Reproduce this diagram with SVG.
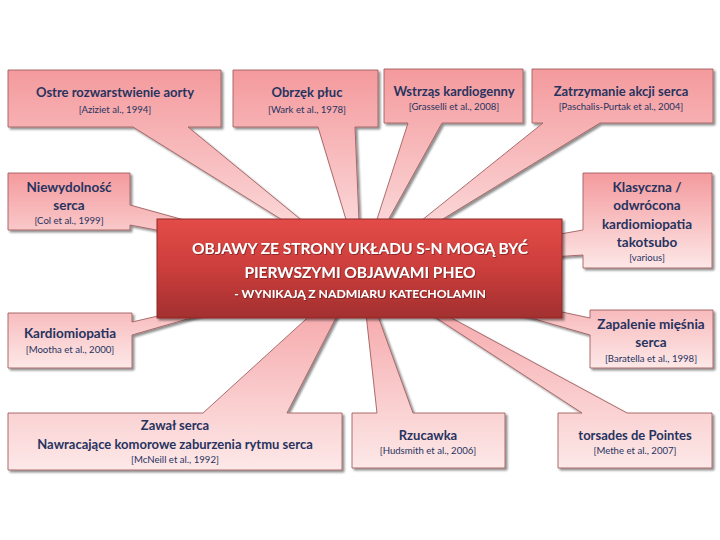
<svg xmlns="http://www.w3.org/2000/svg" width="720" height="540" viewBox="0 0 720 540">
<defs>
<linearGradient id="pink" x1="0" y1="0" x2="0" y2="1">
<stop offset="0" stop-color="#f49a9d"/>
<stop offset="1" stop-color="#fde8e8"/>
</linearGradient>
<linearGradient id="red" x1="0" y1="0" x2="0" y2="1">
<stop offset="0" stop-color="#e34c47"/>
<stop offset="0.5" stop-color="#cb3e3c"/>
<stop offset="1" stop-color="#a32f2f"/>
</linearGradient>
<filter id="sh" x="-10%" y="-10%" width="130%" height="130%">
<feDropShadow dx="2" dy="2" stdDeviation="1.2" flood-color="#000" flood-opacity="0.45"/>
</filter>
<filter id="tsh" x="-10%" y="-20%" width="120%" height="150%">
<feDropShadow dx="0.8" dy="0.8" stdDeviation="0.6" flood-color="#5a1010" flood-opacity="0.7"/>
</filter>
</defs>
<style>
.co{fill:url(#pink);stroke:#a06060;stroke-width:0.9;filter:url(#sh)}
.t{font-family:Lato,"Liberation Sans",sans-serif;font-weight:bold;font-size:13px;fill:#27335f;text-anchor:middle}
.tl{font-size:13.5px}
.c{font-family:Lato,"Liberation Sans",sans-serif;font-size:9.6px;fill:#27335f;text-anchor:middle}
.m{font-family:Lato,"Liberation Sans",sans-serif;font-weight:bold;fill:#ffffff;text-anchor:middle;filter:url(#tsh)}
</style>
<rect width="720" height="540" fill="#ffffff"/>

<g id="n-ostre">
<path class="co" d="M8,70 H221 V127 H188 L361,269 L133,127 H8 Z"/>
<text class="t" x="115" y="97">Ostre rozwarstwienie aorty</text>
<text class="c" x="115" y="113">[Aziziet al., 1994]</text>
</g>
<g id="n-obrzek">
<path class="co" d="M233,70 H378 V127 H355 L361,269 L318,127 H233 Z"/>
<text class="t" x="307" y="97">Obrzęk płuc</text>
<text class="c" x="307" y="113">[Wark et al., 1978]</text>
</g>
<g id="n-wstrzas">
<path class="co" d="M384,69 H523 V123 H442 L361,269 L408,123 H384 Z"/>
<text class="t" x="454" y="96">Wstrząs kardiogenny</text>
<text class="c" x="454" y="110">[Grasselli et al., 2008]</text>
</g>
<g id="n-zatrzymanie">
<path class="co" d="M532,69 H713 V123 H600 L361,269 L543,123 H532 Z"/>
<text class="t" x="621" y="96">Zatrzymanie akcji serca</text>
<text class="c" x="621" y="110">[Paschalis-Purtak et al., 2004]</text>
</g>
<g id="n-niewydolnosc">
<path class="co" d="M8,173 H130 V205 L361,269 L130,225 V230 H8 Z"/>
<text class="t tl" x="69" y="192">Niewydolność</text>
<text class="t tl" x="69" y="210">serca</text>
<text class="c" x="69" y="224">[Col et al., 1999]</text>
</g>
<g id="n-klasyczna">
<path class="co" d="M583,173 H712 V268 H583 V255 L361,269 L583,230 Z"/>
<text class="t tl" x="647" y="192">Klasyczna /</text>
<text class="t tl" x="647" y="210">odwrócona</text>
<text class="t tl" x="647" y="229">kardiomiopatia</text>
<text class="t tl" x="647" y="247">takotsubo</text>
<text class="c" x="647" y="261">[various]</text>
</g>
<g id="n-kardiomiopatia">
<path class="co" d="M8,313 H132 V322 L361,269 L132,335 V368 H8 Z"/>
<text class="t tl" x="70" y="338">Kardiomiopatia</text>
<text class="c" x="70" y="353">[Mootha et al., 2000]</text>
</g>
<g id="n-zapalenie">
<path class="co" d="M590,310 H713 V368 H590 V335 L361,269 L590,318 Z"/>
<text class="t tl" x="651" y="329">Zapalenie mięśnia</text>
<text class="t tl" x="651" y="347">serca</text>
<text class="c" x="651" y="362">[Baratella et al., 1998]</text>
</g>
<g id="n-zawal">
<path class="co" d="M8,413 H203 L361,269 L287,413 H342 V470 H8 Z"/>
<text class="t" x="175" y="430">Zawał serca</text>
<text class="t" x="175" y="449">Nawracające komorowe zaburzenia rytmu serca</text>
<text class="c" x="175" y="463">[McNeill et al., 1992]</text>
</g>
<g id="n-rzucawka">
<path class="co" d="M352,413 H377 L361,269 L413,413 H505 V468 H352 Z"/>
<text class="t" x="428" y="440">Rzucawka</text>
<text class="c" x="428" y="454">[Hudsmith et al., 2006]</text>
</g>
<g id="n-torsades">
<path class="co" d="M558,413 H582 L361,269 L627,413 H712 V468 H558 Z"/>
<text class="t" x="635" y="440">torsades de Pointes</text>
<text class="c" x="635" y="454">[Methe et al., 2007]</text>
</g>

<g id="n-center">
<rect x="157" y="219" width="405" height="99" fill="url(#red)" stroke="#8e2828" stroke-width="1" filter="url(#sh)"/>
<text class="m" x="360" y="254" font-size="15.5">OBJAWY ZE STRONY UKŁADU S-N MOGĄ BYĆ</text>
<text class="m" x="360" y="278" font-size="15.5">PIERWSZYMI OBJAWAMI PHEO</text>
<text class="m" x="360" y="298" font-size="12.2">- WYNIKAJĄ Z NADMIARU KATECHOLAMIN</text>
</g>
</svg>
